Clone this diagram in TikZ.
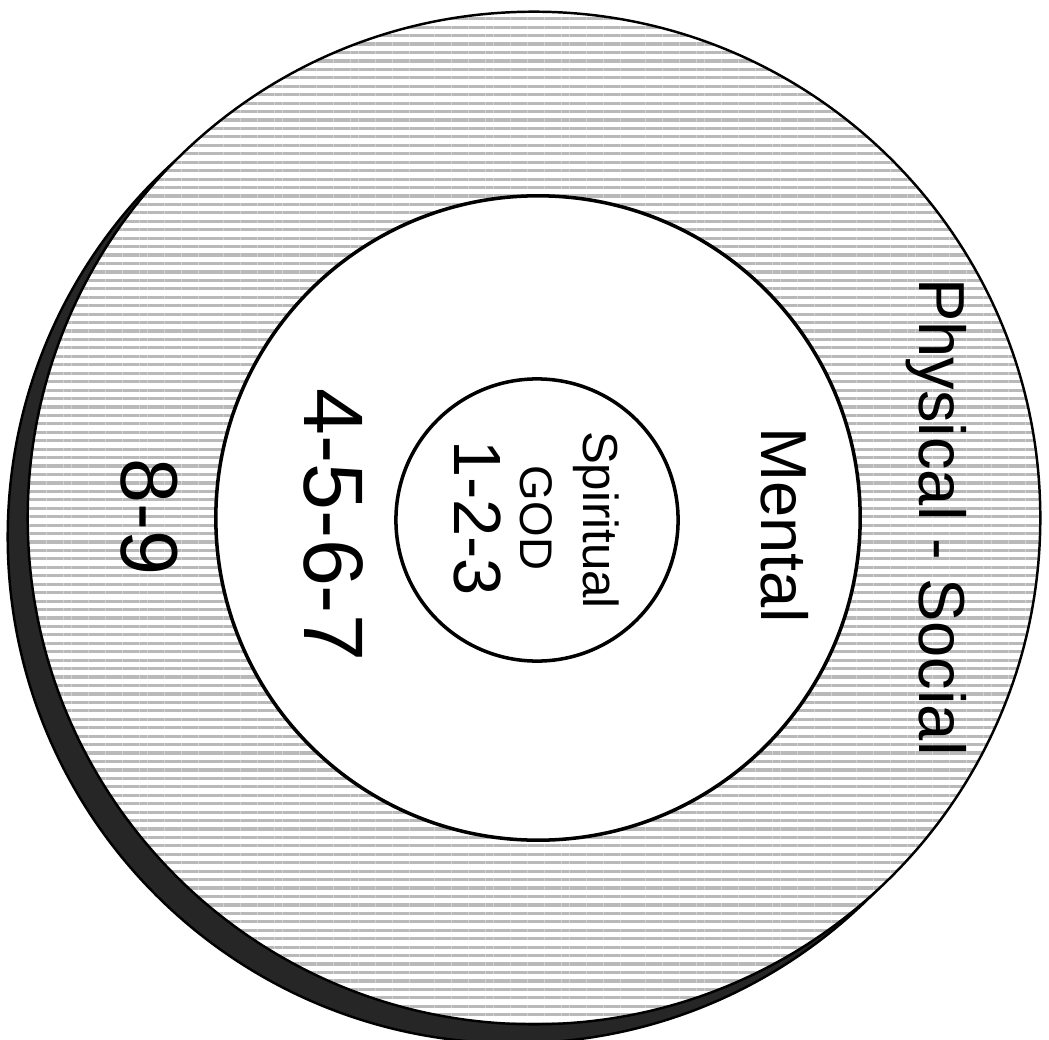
\documentclass[tikz,border=0pt]{standalone}
\usepackage{fontspec}
\setmainfont{Liberation Sans}
\usetikzlibrary{
    patterns.meta,
    positioning
}
\tikzset{
  disc/.style  = {draw, circle, inner sep=0pt, line width=0.7pt},
  lbl/.style   = {rotate=-90, anchor=mid, inner sep=0pt, text=black},
  hatch/.style = {preaction={fill=white},
                  pattern={Lines[angle=0, distance=2.4pt, line width=0.9pt]},
                  pattern color=gray!55}
}
\begin{document}
\begin{tikzpicture}[x=0.01cm, y=-0.01cm]
\useasboundingbox (0,0) rectangle (1049,1040);

% rings, from the outside in
\node[disc, fill=black!85, minimum size=10.12cm] (shadow) at (514,537) {};
\node[disc, hatch, minimum size=10.12cm] (outer) at (534,518) {};
\node[disc, fill=white, line width=1pt, minimum size=6.44cm] (middle) at (538,518) {};
\node[disc, fill=white, line width=1pt, minimum size=2.82cm] (inner) at (537,520) {};

% labels
\node[lbl, font=\fontsize{18.5}{18.5}\selectfont] (phys) at (929,517) {Physical - Social};
\node[lbl, font=\fontsize{18.5}{18.5}\selectfont] (ment) at (771,525) {Mental};
\node[lbl, font=\fontsize{14}{14}\selectfont] (spir) at (593,520) {Spiritual};
\node[lbl, font=\fontsize{13}{13}\selectfont] (god) at (530,518) {GOD};
\node[lbl, font=\fontsize{19}{19}\selectfont] (one) at (464,518) {1-2-3};
\node[lbl, font=\fontsize{24}{24}\selectfont] (four) at (314,525) {4-5-6-7};
\node[lbl, font=\fontsize{23}{23}\selectfont] (eight) at (131,517) {8-9};
\end{tikzpicture}
\end{document}
